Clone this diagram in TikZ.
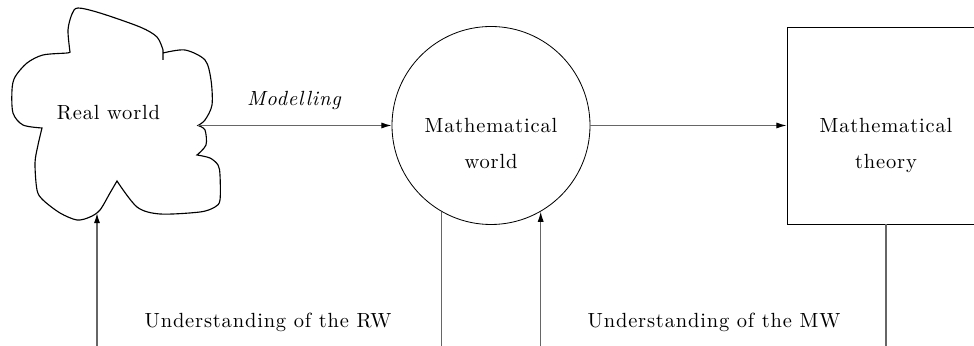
\documentclass[tikz,border=0pt]{standalone}
\usepackage{fontspec}
\setmainfont{Latin Modern Roman}[LetterSpace=4]
\usetikzlibrary{arrows.meta}
\tikzset{
  conn/.style={black!60,line width=0.6pt},
  arr/.style={-{Latex[length=5pt,width=3pt,color=black]}},
  lbl/.style={anchor=base,inner sep=0pt},
}

\begin{document}
\begin{tikzpicture}[x=0.4877pt,y=-0.4877pt]
  \useasboundingbox (0,0) rectangle (974,346);
  % real world (cloud)
  \draw[line width=0.55pt]
    plot[smooth] coordinates {(70,52)(68,30)(72,14)(78,8)(100,13)(140,27)(157,37)(163,50)}
    -- (163,60)
    -- plot[smooth] coordinates {(163,53)(185,50)(205,60)(211,80)(212,105)(205,120)(198,125.5)}
    -- plot[smooth] coordinates {(198,125.5)(205,130)(206,145)(197,155)}
    -- plot[smooth] coordinates {(197,155)(210,158)(218,165)(220,175)(220,200)(215,207)(200,212)(160,214)(137,207)(117,181)}
    -- plot[smooth] coordinates {(117,181)(110,193)(100,210)(90,217)(77,220)(60,213)(43,200)(37,190)(35,163)(38,145)(42,128)}
    -- plot[smooth] coordinates {(42,128)(23,125)(13,113)(12,90)(15,77)(27,63)(43,55)(67,53)(70,52)}
    -- cycle;
  \coordinate (rwE) at (198,125.5);
  \coordinate (rwS) at (97,213);
  \node[lbl] (rw) at (108.5,120) {Real world};
  % mathematical world
  \node[draw,circle,inner sep=0pt,minimum size=96.57pt] (mw) at (491,125.5) {};
  \node[lbl] (mwa) at (491,133) {Mathematical};
  \node[lbl] (mwb) at (491,169) {world};
  % mathematical theory
  \node[draw,inner sep=0pt,minimum width=96.57pt,minimum height=96.08pt] (mt) at (886,125.5) {};
  \node[lbl] (mta) at (886,133) {Mathematical};
  \node[lbl] (mtb) at (886,169) {theory};
  % connectors
  \draw[conn,arr] (rwE) -- (mw.west);
  \node[lbl] (mod) at (294,106) {\itshape Modelling};
  \draw[conn,arr] (mw.east) -- (mt.west);
  \coordinate (b1) at (97,346);
  \coordinate (b2) at (442,346);
  \coordinate (b3) at (541,346);
  \coordinate (b4) at (886,346);
  \draw[conn,arr] (b1) -- (rwS);
  \draw[conn] (mw.240) -- (mw.240 |- b2);
  \draw[conn,arr] (mw.300 |- b3) -- (mw.300);
  \draw[conn] (mt.south) -- (b4);
  \node[lbl] (urw) at (268,328) {Understanding of the RW};
  \node[lbl] (umw) at (714,328) {Understanding of the MW};
\end{tikzpicture}
\end{document}
